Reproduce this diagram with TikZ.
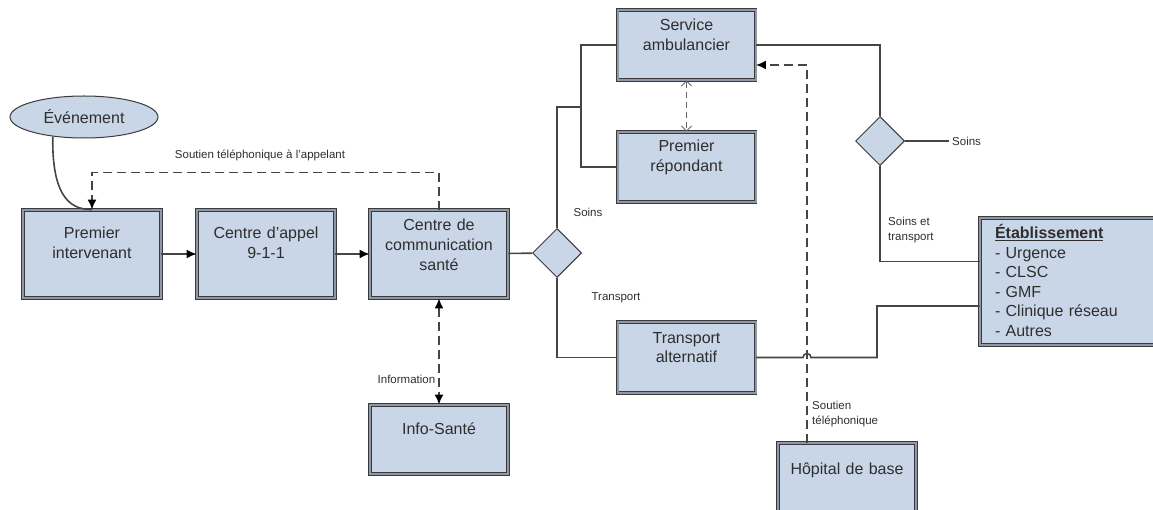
\documentclass[tikz,border=0pt]{standalone}
\usepackage{fontspec}
\setmainfont{Liberation Sans}
\usepackage{tikz}
\usetikzlibrary{arrows.meta,positioning,calc,shapes.geometric}
\definecolor{boxfill}{HTML}{C9D6E8}
\definecolor{boxedge}{HTML}{3A3A3A}
\definecolor{boxband}{HTML}{8E98A6}
\definecolor{linkgray}{HTML}{454545}
\definecolor{textgray}{HTML}{2E2E2E}
\tikzset{
  servicebox/.style 2 args={
    draw=boxedge,
    double=boxband,
    double distance=2pt,
    line width=0.9pt,
    fill=boxfill,
    text=textgray,
    font=\fontsize{16}{20}\selectfont,
    text width=128pt,
    align=center,
    inner xsep=5pt,
    inner ysep=0pt,
    text height=#1,
    text depth=#2
  },
  decision/.style={
    diamond,
    draw=boxedge,
    fill=boxfill,
    line width=1pt,
    minimum width=49pt,
    minimum height=49pt,
    inner sep=0pt
  },
  eventshape/.style={
    ellipse,
    draw=boxedge,
    fill=boxfill,
    line width=1pt,
    minimum width=148pt,
    minimum height=42pt,
    text=textgray,
    font=\fontsize{16}{20}\selectfont
  },
  smalllabel/.style={
    font=\fontsize{11.5}{15}\selectfont,
    text=textgray,
    inner sep=1pt,
    align=left
  },
  link/.style={
    draw=linkgray,
    line width=1.6pt
  },
  linkarrow/.style={
    link,
    -{Latex[length=10pt,width=9pt,color=black]}
  },
  dashlink/.style={
    link,
    dash pattern=on 9pt off 5pt
  },
  thindash/.style={
    draw=gray!80!black,
    line width=0.9pt,
    dash pattern=on 6pt off 4pt,
    {Straight Barb[length=5pt,width=10pt]}-{Straight Barb[length=5pt,width=10pt]}
  }
}
\begin{document}
\begin{tikzpicture}[x=1pt,y=-1pt]
\useasboundingbox (0,0) rectangle (1153,510);
\node[eventshape] (evenement) at (84,117) {Événement};
\node[servicebox={29pt}{59pt}] (premier) at (92,254) {Premier\\intervenant};
\node[servicebox={29pt}{59pt}] (appel) at (266,254) {Centre d’appel\\9-1-1};
\node[servicebox={21pt}{67pt}] (ccs) at (439,254) {Centre de\\communication\\santé};
\node[servicebox={29pt}{40pt}] (infosante) at (439,439.5) {Info-Santé};
\node[decision] (choix) at (557,253) {};
\node[servicebox={21pt}{49pt}] (ambulance) at (686.5,45) {Service\\ambulancier};
\node[servicebox={20pt}{50pt}] (repondant) at (686.5,167) {Premier\\répondant};
\node[servicebox={21pt}{50pt}] (transport) at (686.5,357.5) {Transport\\alternatif};
\node[servicebox={31pt}{39pt}] (hopital) at (847,478) {Hôpital de base};
\node[decision] (choixsoins) at (880,141) {};
\node[servicebox={21pt}{106pt}, align=left, text width=150pt, inner xsep=15pt,
  font=\fontsize{16}{19.5}\selectfont] (etab) at (1070,281.5)
  {\underline{\textbf{Établissement}}\\- Urgence\\- CLSC\\- GMF\\- Clinique réseau\\- Autres};
\coordinate (jonction) at (581,107);
\coordinate (hopitalhaut) at ([xshift=-40pt]hopital.north);
\coordinate (coude) at (877,306);
\coordinate (finsoins) at (949,141);
\draw[link] (evenement.212) .. controls (52,190) and (66,210) .. (premier.north);
\draw[linkarrow] (premier) -- (appel);
\draw[linkarrow] (appel) -- (ccs);
\draw[dashlink, -{Latex[length=10pt,width=9pt,color=black]}] (ccs.north) -- ++(0,-37) -| (premier.north);
\node[smalllabel] (lblappelant) at (260,155) {Soutien téléphonique à l’appelant};
\draw[dashlink, {Latex[length=10pt,width=9pt,color=black]}-{Latex[length=10pt,width=9pt,color=black]}]
  (ccs.south) -- (infosante.north) node[smalllabel, pos=0.76, left=2pt] (lblinfo) {Information};
\draw[link] (ccs) -- (choix);
\draw[link] (choix.north) |- (jonction);
\draw[link] (ambulance.west) -| (jonction) |- (repondant.west);
\draw[link] (choix.south) |- (transport.west);
\node[smalllabel] (lblsoins) at (588,212) {Soins};
\node[smalllabel] (lbltransport) at (616,298) {Transport};
\draw[thindash] (ambulance.south) -- (repondant.north);
\draw[dashlink, -{Latex[length=10pt,width=9pt,color=black]}] (hopitalhaut) |- ([yshift=-20pt]ambulance.east);
\node[smalllabel, anchor=west] (lblhopital) at (811,414) {Soutien\\téléphonique};
\draw[link] (ambulance.east) -| (choixsoins.north);
\draw[link] (choixsoins.east) -- (finsoins);
\node[smalllabel, anchor=west] (lblsoins2) at (951,141) {Soins};
\draw[link] (choixsoins.south) |- ([yshift=20pt]etab.west);
\node[smalllabel, anchor=west] (lblsoinstr) at (887,230) {Soins et\\transport};
\draw[link] (transport.east) -- ([xshift=-4pt]hopitalhaut |- transport.east)
  arc[start angle=180, end angle=360, radius=4] -- (coude |- transport.east) -- (coude) -- (coude -| etab.west);
\end{tikzpicture}
\end{document}
